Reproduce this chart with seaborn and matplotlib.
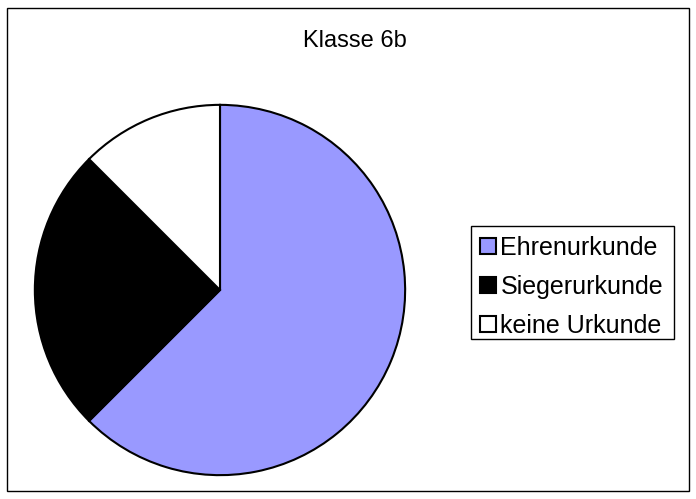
import matplotlib
matplotlib.use("Agg")
import matplotlib.pyplot as plt
import seaborn as sns
from matplotlib.patches import Rectangle

# data
labels = ["Ehrenurkunde", "Siegerurkunde", "keine Urkunde"]
counts = [15, 6, 3]
colors = ["#9999ff", "#000000", "#ffffff"]
title = "Klasse 6b"

sns.set_style("white")
plt.rcParams["font.family"] = ["Liberation Sans", "DejaVu Sans"]
plt.rcParams["text.color"] = "black"

W, H = 696, 499
fig = plt.figure(figsize=(W / 100, H / 100), dpi=100)

# outer chart frame and legend frame
fig.patches.append(Rectangle((7 / W, 1 - 491 / H), 682 / W, 483 / H,
                             transform=fig.transFigure, fill=False,
                             edgecolor="black", linewidth=1.0))
fig.patches.append(Rectangle((471 / W, 1 - 339 / H), 203 / W, 113 / H,
                             transform=fig.transFigure, fill=False,
                             edgecolor="black", linewidth=1.0))

ax = fig.add_axes([33 / W, 1 - 477 / H, 374 / W, 374 / H])
wedges, _ = ax.pie(counts, colors=colors, startangle=90, counterclock=False,
                   radius=1, wedgeprops=dict(edgecolor="black", linewidth=1.5))
ax.set_xlim(-1.01, 1.01)
ax.set_ylim(-1.01, 1.01)
ax.axis("off")

fig.text(355 / W, 1 - 47 / H, title, ha="center", va="baseline", fontsize=17)

leg = fig.legend(wedges, labels, loc="upper left",
                 bbox_to_anchor=(475 / W, 1 - 231 / H),
                 bbox_transform=fig.transFigure, fontsize=18,
                 frameon=False, handlelength=0.62,
                 handleheight=0.62, handletextpad=0.2, borderpad=0.2,
                 labelspacing=0.6, borderaxespad=0, labelcolor="black")
for h in leg.legend_handles:
    h.set_linewidth(1.5)
    h.set_edgecolor("black")

fig.savefig("out.png", dpi=100)
